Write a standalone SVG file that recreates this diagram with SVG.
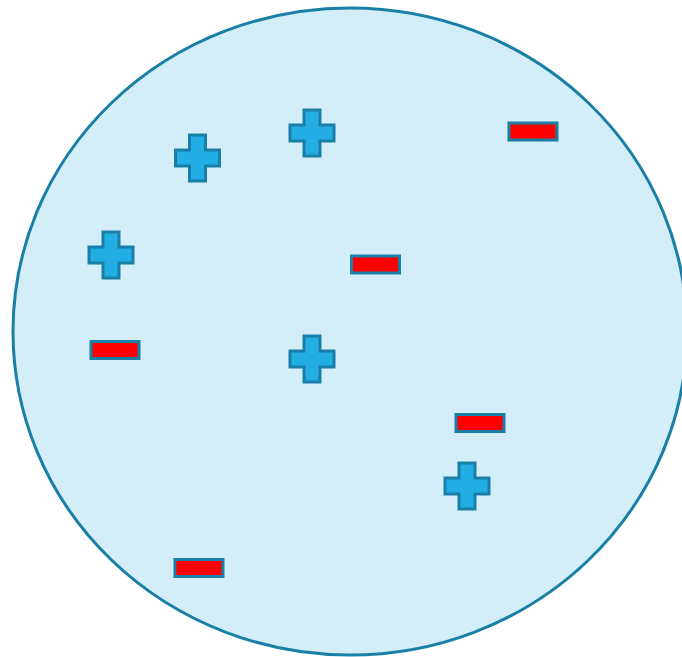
<svg xmlns="http://www.w3.org/2000/svg" width="682" height="657" viewBox="0 0 682 657">
<defs>
<style>
.cell{fill:#d4eef9;stroke:#1a7fa6;stroke-width:3}
.plus{fill:#22ade4;stroke:#1a7fa6;stroke-width:3;stroke-linejoin:miter}
.minus{fill:#ff0000;stroke:#1a7fa6;stroke-width:3}
</style>
<path id="p" d="M-8,-23 H8 V-8 H22 V8 H8 V23 H-8 V8 H-22 V-8 H-8 Z"/>
</defs>
<rect width="682" height="657" fill="#ffffff"/>
<g id="cell"><ellipse class="cell" cx="350" cy="331.5" rx="337" ry="323.5"/></g>
<g id="plus1"><use href="#p" class="plus" x="197.5" y="158"/></g>
<g id="plus2"><use href="#p" class="plus" x="312" y="133"/></g>
<g id="plus3"><use href="#p" class="plus" x="111" y="255"/></g>
<g id="plus4"><use href="#p" class="plus" x="312" y="359"/></g>
<g id="plus5"><use href="#p" class="plus" x="467" y="486"/></g>
<g id="minus1"><rect class="minus" x="509" y="123" width="48" height="17"/></g>
<g id="minus2"><rect class="minus" x="351.5" y="256" width="48" height="17"/></g>
<g id="minus3"><rect class="minus" x="91" y="341.5" width="48" height="17"/></g>
<g id="minus4"><rect class="minus" x="456" y="414.5" width="48" height="17"/></g>
<g id="minus5"><rect class="minus" x="175" y="559.5" width="48" height="17"/></g>
</svg>
